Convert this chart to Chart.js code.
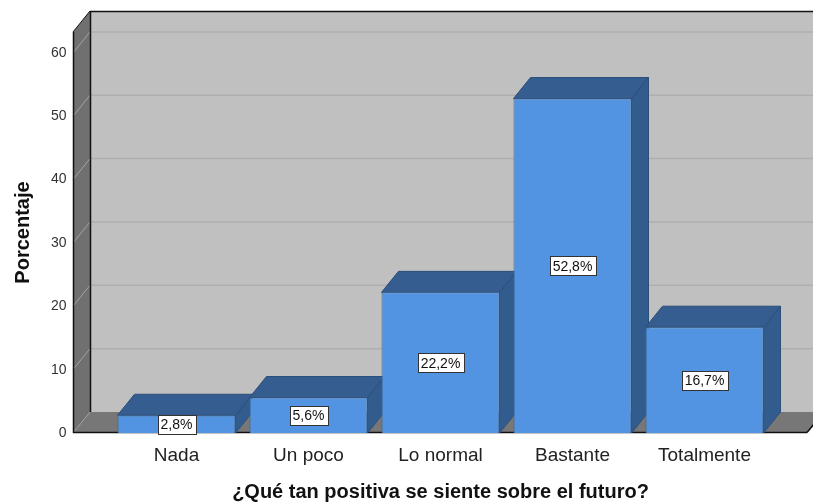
<!DOCTYPE html>
<html>
<head>
<meta charset="utf-8">
<script src="https://cdn.jsdelivr.net/npm/chart.js@4.4.1/dist/chart.umd.min.js"></script>
<style>
  body { margin: 0; background: #fff; }
  canvas { display: block; }
</style>
</head>
<body>
<canvas id="chart" width="813" height="504"></canvas>
<script>
// Données
const categories = ['Nada', 'Un poco', 'Lo normal', 'Bastante', 'Totalmente'];
const percentages = [2.8, 5.6, 22.2, 52.8, 16.7];
const yTicks = [0, 10, 20, 30, 40, 50, 60];
const yMax = 63.3;

// profondeur de l'effet 3D
const DX = 17;
const DY = 21;

const FONT = '"Liberation Sans", Arial, sans-serif';

function fmt(v) {
    return v.toFixed(1).replace('.', ',') + '%';
}

function poly(ctx, pts, fill, stroke) {
    ctx.beginPath();
    ctx.moveTo(pts[0][0], pts[0][1]);
    for (let i = 1; i < pts.length; i++) ctx.lineTo(pts[i][0], pts[i][1]);
    ctx.closePath();
    if (fill) { ctx.fillStyle = fill; ctx.fill(); }
    if (stroke) { ctx.strokeStyle = stroke; ctx.lineWidth = 1; ctx.stroke(); }
}

function line(ctx, x1, y1, x2, y2, color, w) {
    ctx.beginPath();
    ctx.moveTo(x1, y1);
    ctx.lineTo(x2, y2);
    ctx.strokeStyle = color;
    ctx.lineWidth = w || 1;
    ctx.stroke();
}

// Murs, sol, grille et faces 3D des barres
const depth3d = {
    id: 'depth3d',
    beforeDatasetsDraw(chart) {
        const { ctx, chartArea: a, scales: { y } } = chart;
        const L = a.left - 37.5;
        const R = a.right + 36.5;
        const T = a.top;
        const B = a.bottom;
        const W = chart.width;
        ctx.save();

        // mur du fond
        ctx.fillStyle = '#c0c0c0';
        ctx.fillRect(L + DX, T - DY, W - L - DX, B - T);
        // mur de gauche
        poly(ctx, [[L, T], [L + DX, T - DY], [L + DX, B - DY], [L, B]], '#707070');
        // sol
        poly(ctx, [[L, B], [L + DX, B - DY], [R + DX, B - DY], [R, B]], '#777777');

        // grille
        yTicks.forEach(v => {
            if (v === 0) return;
            const py = y.getPixelForValue(v);
            line(ctx, L + DX, py - DY, W, py - DY, '#afafaf', 1.5);
            line(ctx, L, py, L + DX, py - DY, '#a4a4a4', 1);
        });

        // arêtes
        line(ctx, L + DX, B - DY, L, B, '#9a9a9a', 1);
        line(ctx, L + DX + 0.5, T - DY, L + DX + 0.5, B - DY, '#111', 1.5);
        line(ctx, L + DX, T - DY + 0.5, W, T - DY + 0.5, '#111', 1.5);
        line(ctx, L, T, L + DX, T - DY, '#111', 1);
        line(ctx, L + 0.5, T, L + 0.5, B, '#111', 1.5);
        line(ctx, L, B - 0.5, R, B - 0.5, '#111', 1.5);
        line(ctx, R, B - 0.5, R + DX, B - DY, '#111', 1.5);

        // dessus et côtés des barres
        const meta = chart.getDatasetMeta(0);
        meta.data.forEach(bar => {
            const x1 = bar.x - bar.width / 2;
            const x2 = bar.x + bar.width / 2;
            const yt = bar.y;
            const yb = bar.base;
            poly(ctx, [[x2, yt], [x2 + DX, yt - DY], [x2 + DX, yb - DY], [x2, yb]], '#335c8e', '#2c4f7a');
            poly(ctx, [[x1, yt], [x1 + DX, yt - DY], [x2 + DX, yt - DY], [x2, yt]], '#355d90', '#2c4f7a');
        });
        ctx.restore();
    },
    afterDatasetsDraw(chart) {
        const { ctx } = chart;
        const meta = chart.getDatasetMeta(0);
        ctx.save();
        ctx.font = '14px ' + FONT;
        ctx.textAlign = 'center';
        ctx.textBaseline = 'middle';
        meta.data.forEach((bar, i) => {
            const txt = fmt(percentages[i]);
            const w = Math.round(ctx.measureText(txt).width + 6);
            const h = 19;
            const cy = (bar.y + bar.base) / 2;
            const bx = Math.round(bar.x - w / 2) + 0.5;
            const by = Math.round(cy - h / 2) + 0.5;
            ctx.fillStyle = '#fff';
            ctx.fillRect(bx, by, w, h);
            ctx.strokeStyle = '#333';
            ctx.lineWidth = 1;
            ctx.strokeRect(bx, by, w, h);
            ctx.fillStyle = '#111';
            ctx.fillText(txt, bar.x, cy + 1);
        });
        ctx.restore();
    }
};

new Chart(document.getElementById('chart'), {
    type: 'bar',
    data: {
        labels: categories,
        datasets: [{
            data: percentages,
            backgroundColor: '#5294e2',
            borderColor: '#3f6796',
            borderWidth: 1,
            barPercentage: 0.894,
            categoryPercentage: 1
        }]
    },
    options: {
        responsive: false,
        animation: false,
        layout: {
            padding: { top: 32, right: 42.5, bottom: 0, left: 0 }
        },
        plugins: {
            legend: { display: false },
            tooltip: { enabled: false }
        },
        scales: {
            x: {
                grid: { display: false, drawTicks: false },
                border: { display: false },
                ticks: {
                    color: '#222',
                    padding: 11,
                    font: { family: FONT, size: 19 }
                },
                title: {
                    display: true,
                    text: '¿Qué tan positiva se siente sobre el futuro?',
                    color: '#111',
                    padding: { top: 0, bottom: 0 },
                    font: { family: FONT, size: 20, weight: 'bold' }
                },
                afterFit: s => { s.height = 71; }
            },
            y: {
                min: 0,
                max: yMax,
                grid: { display: false, drawTicks: false },
                border: { display: false },
                afterBuildTicks: s => { s.ticks = yTicks.map(v => ({ value: v })); },
                ticks: {
                    color: '#333',
                    padding: 44,
                    font: { family: FONT, size: 14 }
                },
                title: {
                    display: true,
                    text: 'Porcentaje',
                    color: '#111',
                    padding: { top: 11, bottom: 0 },
                    font: { family: FONT, size: 20, weight: 'bold' }
                },
                afterFit: s => {
                    s.width = 110.5;
                    s.paddingTop = 0;
                    s.paddingBottom = 0;
                }
            }
        }
    },
    plugins: [depth3d]
});
</script>
</body>
</html>
